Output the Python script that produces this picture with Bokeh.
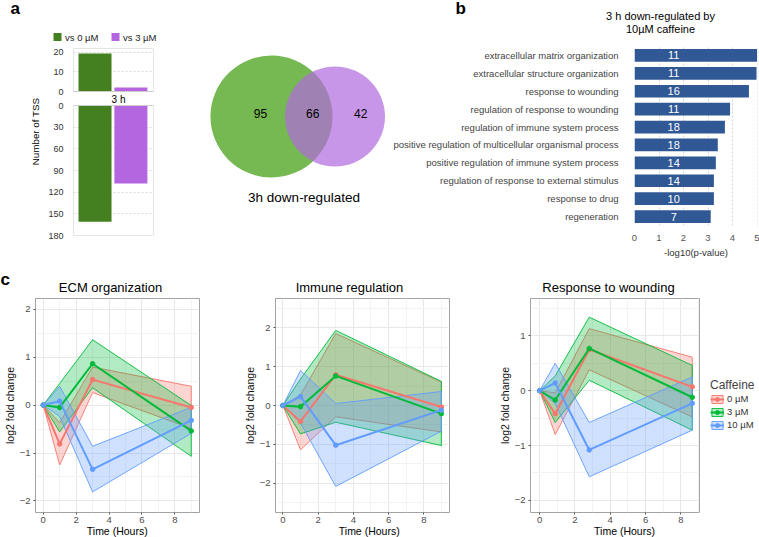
import math
from bokeh.plotting import figure
from bokeh.models import Range1d, FactorRange, FixedTicker, Label, Legend, LegendItem
from bokeh.layouts import row, column
from bokeh.core.properties import value
from bokeh.embed import file_html
from bokeh.resources import INLINE

# ---------------- data ----------------
# panel a: number of TSS at 3 h (up / down)
tss_groups = ["vs 0 µM", "vs 3 µM"]
tss_up_3h = [19.5, 2]
tss_down_3h = [161, 108]
tss_up_ticks = [0, 10, 20]
tss_down_ticks = [0, 30, 60, 90, 120, 150, 180]
tss_up_max = 22
tss_down_max = 180

# panel a: Venn of 3h down-regulated TSS
venn_only_0 = 95
venn_shared = 66
venn_only_3 = 42

# panel b: GO enrichment
go_terms = ["extracellular matrix organization",
            "extracellular structure organization",
            "response to wounding",
            "regulation of response to wounding",
            "regulation of immune system process",
            "positive regulation of multicellular organismal process",
            "positive regulation of immune system process",
            "regulation of response to external stimulus",
            "response to drug",
            "regeneration"]
go_log10p = [5.0, 4.98, 4.67, 3.9, 3.69, 3.4, 3.32, 3.24, 3.24, 3.11]
go_counts = [11, 11, 16, 11, 18, 18, 14, 14, 10, 7]
go_ticks = [0, 1, 2, 3, 4, 5]

# panel c: time courses (mean, upper, lower) per caffeine dose
doses = ["0 µM", "3 µM", "10 µM"]
time_h = [0, 1, 3, 9]
time_h_wound = [0, 0.88, 2.81, 8.65]

ecm_mean_0 = [0, -0.81, 0.53, -0.05]
ecm_up_0 = [0, -0.37, 0.79, 0.39]
ecm_lo_0 = [0, -1.25, 0.26, -0.49]
ecm_mean_3 = [0, -0.05, 0.86, -0.54]
ecm_up_3 = [0, 0.45, 1.36, -0.01]
ecm_lo_3 = [0, -0.56, 0.36, -1.07]
ecm_mean_10 = [0, 0.08, -1.34, -0.32]
ecm_up_10 = [0, 0.39, -0.86, -0.05]
ecm_lo_10 = [0, -0.24, -1.81, -0.59]

imm_mean_0 = [0, -0.41, 0.79, -0.04]
imm_up_0 = [0, 0.27, 1.85, 0.60]
imm_lo_0 = [0, -1.14, -0.29, -0.68]
imm_mean_3 = [0, -0.03, 0.76, -0.21]
imm_up_3 = [0, 0.68, 1.93, 0.62]
imm_lo_3 = [0, -0.73, -0.43, -1.03]
imm_mean_10 = [0, 0.23, -1.02, -0.12]
imm_up_10 = [0, 0.90, 0.05, 0.36]
imm_lo_10 = [0, -0.45, -2.08, -0.66]

wnd_mean_0 = [0, -0.42, 0.75, 0.07]
wnd_up_0 = [0, -0.04, 1.13, 0.61]
wnd_lo_0 = [0, -0.80, 0.38, -0.48]
wnd_mean_3 = [0, -0.17, 0.77, -0.12]
wnd_up_3 = [0, 0.27, 1.34, 0.46]
wnd_lo_3 = [0, -0.58, 0.19, -0.72]
wnd_mean_10 = [0, 0.14, -1.08, -0.23]
wnd_up_10 = [0, 0.50, -0.58, 0.25]
wnd_lo_10 = [0, -0.23, -1.57, -0.72]

# ---------------- styles / geometry ----------------
FONT = "Liberation Sans"
GREEN_BAR = "#44801f"
PURPLE_BAR = "#b466e0"
VENN_GREEN = "#76b852"
VENN_PURPLE = "#b069de"
GO_BLUE = "#2f5894"
DOSE_COLORS = ["#F8766D", "#00BA38", "#619CFF"]

GEO = {}


def make_fig(box, frame=None, deco=False, **kw):
    X0, Y0, X1, Y1 = box
    FX0, FY0, FX1, FY1 = frame if frame else box
    if deco:
        kw.update(x_range=Range1d(X0, X1), y_range=Range1d(Y1, Y0),
                  x_axis_location=None, y_axis_location=None)
    p = figure(width=X1 - X0, height=Y1 - Y0, title=None, frame_align=False,
               min_border_left=FX0 - X0, min_border_right=X1 - FX1,
               min_border_top=FY0 - Y0, min_border_bottom=Y1 - FY1,
               toolbar_location=None, output_backend="svg", **kw)
    p.background_fill_color = "white"
    p.border_fill_color = "white"
    if deco:
        p.outline_line_color = None
        p.grid.visible = False
    GEO[p.id] = (X0, Y0, X1, Y1, FX0, FY0, FX1, FY1)
    return p


def lab(p, rx, ry, text, size, color="#000000", align="center", angle=0.0, bold=False):
    """Text centred vertically on (rx, ry), page pixel coordinates."""
    X0, Y0, X1, Y1, FX0, FY0, FX1, FY1 = GEO[p.id]
    p.add_layout(Label(x=rx - FX0, y=FY1 - ry, x_units="screen", y_units="screen",
                       text=text, text_font=FONT, text_font_size=f"{size}px",
                       text_color=color, text_align=align, text_baseline="middle",
                       angle=angle, text_font_style="bold" if bold else "normal"))


def plain_axis(ax, size="9px", standoff=4):
    ax.axis_line_color = None
    ax.major_tick_line_color = None
    ax.minor_tick_line_color = None
    ax.major_label_text_font = FONT
    ax.major_label_text_font_size = size
    ax.major_label_text_color = "#333333"
    ax.major_label_standoff = standoff


# ---------------- panel a ----------------
decoAL = make_fig((0, 0, 45, 270), deco=True)
lab(decoAL, 10, 7.5, "a", 17, align="left", bold=True)
lab(decoAL, 35, 131, "Number of TSS", 9.8, angle=math.pi / 2)

decoAleg = make_fig((45, 0, 165, 45), deco=True)
key_colors = [GREEN_BAR, PURPLE_BAR]
key_x = [57 + 58 * i for i in range(len(tss_groups))]
decoAleg.rect(x=key_x, y=[36.5] * len(key_x), width=8, height=8,
              fill_color=key_colors, line_color=None)
for k, g in zip(key_x, tss_groups):
    lab(decoAleg, k + 7.5, 36.5, g, 9.5, color="#222222", align="left")

# one frame holding both sub-panels: upper (up-regulated) and lower (down-regulated, reversed)
A_TOP, A_MID1, A_MID2, A_BOT = 48, 91, 105, 235        # pixel rows of the two boxes
up_per_px = tss_up_max / (A_MID1 - A_TOP)
dn_per_px = tss_down_max / (A_BOT - A_MID2)
up_start = -(A_BOT - A_MID1) * up_per_px
dn_end = -(A_MID2 - A_TOP) * dn_per_px
figA = make_fig((45, 45, 165, 270), (63, A_TOP, 153, A_BOT),
                x_range=Range1d(-0.6, 1.63), y_range=Range1d(up_start, tss_up_max),
                x_axis_location=None)
figA.extra_y_ranges = {"down": Range1d(tss_down_max, dn_end)}
bar_x = list(range(len(tss_groups)))
figA.vbar(x=bar_x, top=tss_up_3h, bottom=0, width=0.92, fill_color=key_colors, line_color=None)
figA.vbar(x=bar_x, top=tss_down_3h, bottom=0, width=0.92, fill_color=key_colors,
          line_color=None, y_range_name="down")
figA.quad(left=-0.6, right=1.63, bottom=0, top=tss_up_max, fill_color=None,
          line_color="#cccccc", line_width=1)
figA.quad(left=-0.6, right=1.63, bottom=tss_down_max, top=0, fill_color=None,
          line_color="#cccccc", line_width=1, y_range_name="down")


def down_to_up(v):
    px = A_MID2 + v / dn_per_px
    return tss_up_max - (px - A_TOP) * up_per_px


tick_pos = [float(t) for t in tss_up_ticks] + [down_to_up(v) for v in tss_down_ticks]
tick_txt = [str(t) for t in tss_up_ticks] + [str(v) for v in tss_down_ticks]
figA.yaxis.ticker = FixedTicker(ticks=tick_pos)
figA.yaxis.major_label_overrides = {pos: txt for pos, txt in zip(tick_pos, tick_txt)}
plain_axis(figA.yaxis)
figA.outline_line_color = None
figA.xgrid.visible = False
figA.ygrid.grid_line_color = "#d9d9d9"
figA.ygrid.grid_line_dash = "2 2"
lab(figA, 108, 99, "3 h", 10)

# ---------------- Venn ----------------
venn = make_fig((165, 0, 385, 270), deco=True)
R_SCALE = 4.81           # px per sqrt(count)
OVERLAP_W = 47.5         # px of lens width
CX_A, CY = 271, 116
n_a = venn_only_0 + venn_shared
n_b = venn_only_3 + venn_shared
r_a = R_SCALE * math.sqrt(n_a)
r_b = R_SCALE * math.sqrt(n_b)
CX_B = CX_A + r_a + r_b - OVERLAP_W
venn.circle(x=[CX_A], y=[CY], radius=r_a, fill_color=VENN_GREEN, line_color=None)
venn.circle(x=[CX_B], y=[CY], radius=r_b, fill_color=VENN_PURPLE, fill_alpha=0.7,
            line_color=None)
lens_mid = (CX_B - r_b + CX_A + r_a) / 2
lab(venn, CX_A - 0.18 * r_a, 113, str(venn_only_0), 12)
lab(venn, lens_mid + 4, 113, str(venn_shared), 12)
lab(venn, (CX_A + r_a + CX_B + r_b) / 2 + 2, 113, str(venn_only_3), 12)
lab(venn, 303.5, 197, "3h down-regulated", 13.5)

# ---------------- panel b ----------------
decoB = make_fig((385, 0, 759, 40), deco=True)
lab(decoB, 455, 8, "b", 17, align="left", bold=True)
lab(decoB, 660, 15, "3 h down-regulated by", 11)
lab(decoB, 660, 28, "10µM caffeine", 11)

figB = make_fig((385, 40, 759, 270), (634, 46, 757, 225),
                y_range=FactorRange(factors=list(reversed(go_terms))),
                x_range=Range1d(0, 5.02))
figB.hbar(y=go_terms, right=go_log10p, left=0, height=0.71, fill_color=GO_BLUE,
          line_color=None)
COUNT_X = 1.6
figB.text(x=[COUNT_X] * len(go_terms), y=go_terms, text=[str(c) for c in go_counts],
          text_color="white", text_align="center", text_baseline="middle",
          text_font=value(FONT), text_font_size=value("11px"))
figB.outline_line_color = None
figB.ygrid.visible = False
figB.xgrid.grid_line_color = "#d4d4d4"
figB.xgrid.grid_line_dash = "2 2"
figB.xaxis.ticker = FixedTicker(ticks=go_ticks)
plain_axis(figB.xaxis, size="9.5px", standoff=3)
figB.xaxis.major_label_text_color = "#555555"
figB.xaxis.axis_label = "-log10(p-value)"
figB.xaxis.axis_label_text_font = FONT
figB.xaxis.axis_label_text_font_size = "9.5px"
figB.xaxis.axis_label_text_font_style = "normal"
figB.xaxis.axis_label_text_color = "#333333"
figB.xaxis.axis_label_standoff = 3
plain_axis(figB.yaxis, size="9.5px", standoff=10)
figB.yaxis.major_label_text_color = "#444444"


# ---------------- panel c ----------------
def style_trend(p, yticks):
    p.outline_line_color = "#a3a3a3"
    p.xaxis.ticker = FixedTicker(ticks=[0, 2, 4, 6, 8], minor_ticks=[1, 3, 5, 7, 9])
    p.yaxis.ticker = FixedTicker(ticks=yticks, minor_ticks=[v + 0.5 for v in range(-3, 3)])
    for ax in (p.xaxis, p.yaxis):
        ax.axis_line_color = None
        ax.major_tick_line_color = "#555555"
        ax.major_tick_out = 2
        ax.major_tick_in = 0
        ax.minor_tick_line_color = None
        ax.major_label_text_font = FONT
        ax.major_label_text_font_size = "9.5px"
        ax.major_label_text_color = "#4d4d4d"
        ax.major_label_standoff = 1
    p.xaxis.major_label_standoff = 0
    p.yaxis.axis_label = "log2 fold change"
    p.yaxis.axis_label_text_font = FONT
    p.yaxis.axis_label_text_font_size = "10.5px"
    p.yaxis.axis_label_text_font_style = "normal"
    p.yaxis.axis_label_text_color = "#111111"
    p.yaxis.axis_label_standoff = 1
    p.grid.grid_line_color = "#e8e8e8"
    p.grid.minor_grid_line_color = "#f3f3f3"


def draw_bands(p, time, means, ups, los):
    patches, rends = [], []
    for i, c in enumerate(DOSE_COLORS):
        xs = list(time) + list(time)[::-1]
        ys = list(ups[i]) + list(los[i])[::-1]
        patches.append(p.patch(xs, ys, fill_color=c, fill_alpha=0.3, line_color=c,
                               line_width=1, line_alpha=0.9))
    for i, c in enumerate(DOSE_COLORS):
        ln = p.line(time, means[i], line_color=c, line_width=2)
        sc = p.scatter(time, means[i], size=4.5, fill_color=c, line_color=c)
        rends.append([patches[i], ln, sc])
    return rends


decoCtop = make_fig((0, 270, 759, 297), deco=True)
lab(decoCtop, 0, 279, "c", 17, align="left", bold=True)
lab(decoCtop, 110, 286.5, "ECM organization", 13)
lab(decoCtop, 349, 286.5, "Immune regulation", 13)
lab(decoCtop, 608, 286.5, "Response to wounding", 13)

ecm = make_fig((0, 297, 240, 525), (27, 298, 199, 516),
               x_range=Range1d(-0.47, 9.5), y_range=Range1d(-2.24, 2.22))
style_trend(ecm, [-2, -1, 0, 1, 2])
draw_bands(ecm, time_h, [ecm_mean_0, ecm_mean_3, ecm_mean_10],
           [ecm_up_0, ecm_up_3, ecm_up_10], [ecm_lo_0, ecm_lo_3, ecm_lo_10])

imm = make_fig((240, 297, 495, 525), (267, 298, 449, 517),
               x_range=Range1d(-0.42, 9.46), y_range=Range1d(-2.75, 2.75))
style_trend(imm, [-2, -1, 0, 1, 2])
draw_bands(imm, time_h, [imm_mean_0, imm_mean_3, imm_mean_10],
           [imm_up_0, imm_up_3, imm_up_10], [imm_lo_0, imm_lo_3, imm_lo_10])

wnd = make_fig((495, 297, 703, 525), (528, 298, 699, 517),
               x_range=Range1d(-0.52, 9.06), y_range=Range1d(-2.22, 1.68))
style_trend(wnd, [-2, -1, 0, 1])
draw_bands(wnd, time_h_wound, [wnd_mean_0, wnd_mean_3, wnd_mean_10],
           [wnd_up_0, wnd_up_3, wnd_up_10], [wnd_lo_0, wnd_lo_3, wnd_lo_10])

# legend for the caffeine doses (key glyphs styled like the bands above)
legdeco = make_fig((703, 297, 759, 525), deco=True)
OFF = [-9999.0, -9998.0, -9997.0]       # keep the key-only glyphs off-canvas
leg_items = []
for d, c in zip(doses, DOSE_COLORS):
    pr = legdeco.patch(OFF, OFF, fill_color=c, fill_alpha=0.3, line_color=c,
                       line_width=1, line_alpha=0.9)
    lr = legdeco.line(OFF, OFF, line_color=c, line_width=2)
    sr = legdeco.scatter(OFF, OFF, size=4.5, fill_color=c, line_color=c)
    leg_items.append(LegendItem(label=d, renderers=[pr, lr, sr]))
legend = Legend(items=leg_items, title="Caffeine", location=(7, 525 - 430),
                title_text_font=FONT, title_text_font_size="12px",
                title_text_font_style="normal", title_standoff=1,
                label_text_font=FONT, label_text_font_size="9.5px",
                label_text_color="#333333",
                glyph_width=14, glyph_height=10, label_height=10, label_standoff=3,
                spacing=2, padding=0, margin=0,
                border_line_color=None, background_fill_alpha=0)
legdeco.add_layout(legend)

decoCbot = make_fig((0, 525, 759, 537), deco=True)
lab(decoCbot, 116.7, 530.8, "Time (Hours)", 10.5)
lab(decoCbot, 368.7, 530.8, "Time (Hours)", 10.5)
lab(decoCbot, 624, 530.8, "Time (Hours)", 10.5)

# ---------------- layout ----------------
colA = column(decoAleg, figA)
colB = column(decoB, figB)
top = row(decoAL, colA, venn, colB)
bottom = column(decoCtop, row(ecm, imm, wnd, legdeco), decoCbot)
root = column(top, bottom)

open("out.html", "w").write(file_html(root, INLINE))
